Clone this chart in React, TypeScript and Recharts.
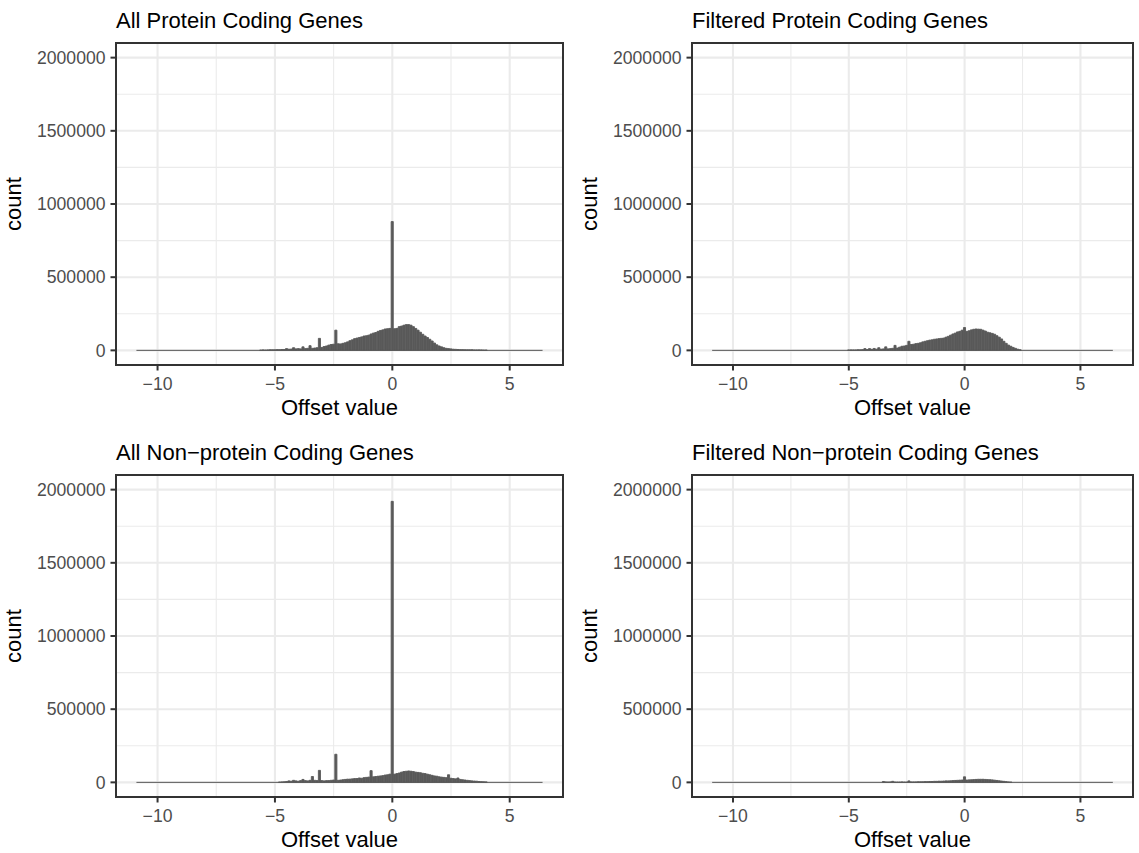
import { BarChart, Bar, XAxis, YAxis, CartesianGrid, ReferenceLine } from 'recharts'

// histogram bins: centre of the first drawn bin and width of every bin
const FIRST_BIN = -5.6
const BIN_WIDTH = 0.1
// observed range of offsets, drawn as the flat tail of each histogram
const OFFSET_MIN = -10.9
const OFFSET_MAX = 6.4

const X_TICKS = [-10, -5, 0, 5]
const X_MINOR = [-7.5, -2.5, 2.5]
const Y_TICKS = [0, 500000, 1000000, 1500000, 2000000]
const Y_MINOR = [250000, 750000, 1250000, 1750000]
const X_DOMAIN: [number, number] = [-11.77, 7.27]
const Y_DOMAIN: [number, number] = [-100000, 2100000]

const TITLES = [
  'All Protein Coding Genes',
  'Filtered Protein Coding Genes',
  'All Non\u2212protein Coding Genes',
  'Filtered Non\u2212protein Coding Genes',
]

// counts per bin, bins from -5.6 to 4.0
const ALL_PC = [
  2000, 3000, 2000, 3000, 4000, 4000, 4000, 5000, 5000, 6000,
  6000, 12000, 8000, 9000, 18000, 10000, 12000, 10000, 24000, 12000,
  14000, 32000, 14000, 16000, 18000, 82000, 20000, 26000, 30000, 36000,
  40000, 42000, 138000, 45000, 44000, 48000, 52000, 58000, 66000, 72000,
  80000, 84000, 88000, 92000, 98000, 100000, 104000, 112000, 118000, 122000,
  130000, 136000, 140000, 146000, 148000, 150000, 880000, 148000, 150000, 162000,
  166000, 172000, 176000, 176000, 172000, 162000, 150000, 138000, 124000, 110000,
  98000, 88000, 76000, 64000, 50000, 38000, 30000, 24000, 18000, 14000,
  12000, 10000, 8000, 7000, 6000, 5000, 5000, 4000, 4000, 4000,
  4000, 3000, 3000, 3000, 3000, 2000, 2000,
]

const FILT_PC = [
  0, 0, 0, 0, 0, 0, 3000, 3000, 3000, 3000,
  4000, 4000, 5000, 12000, 6000, 12000, 7000, 13000, 8000, 18000,
  8000, 10000, 24000, 10000, 12000, 14000, 34000, 16000, 22000, 28000,
  30000, 34000, 62000, 40000, 42000, 46000, 48000, 52000, 58000, 62000,
  66000, 70000, 72000, 76000, 78000, 80000, 82000, 84000, 90000, 96000,
  104000, 112000, 118000, 126000, 130000, 138000, 156000, 130000, 134000, 140000,
  144000, 146000, 145000, 144000, 138000, 132000, 124000, 120000, 116000, 110000,
  100000, 90000, 78000, 62000, 48000, 36000, 28000, 20000, 14000, 8000,
  4000, 0, 0, 0, 0, 0, 0, 0, 0, 0,
  0, 0, 0, 0, 0, 0, 0,
]

const ALL_NPC = [
  0, 0, 0, 0, 0, 0, 0, 0, 2000, 3000,
  4000, 6000, 10000, 8000, 14000, 10000, 8000, 12000, 20000, 12000,
  10000, 14000, 40000, 14000, 12000, 82000, 12000, 10000, 12000, 12000,
  14000, 16000, 192000, 14000, 16000, 18000, 20000, 22000, 22000, 24000,
  26000, 26000, 30000, 28000, 32000, 34000, 36000, 80000, 38000, 40000,
  42000, 44000, 46000, 50000, 52000, 56000, 1920000, 56000, 60000, 64000,
  70000, 74000, 76000, 78000, 76000, 74000, 70000, 68000, 66000, 62000,
  60000, 56000, 52000, 48000, 44000, 42000, 38000, 36000, 34000, 32000,
  52000, 28000, 26000, 24000, 30000, 20000, 18000, 16000, 14000, 12000,
  10000, 9000, 8000, 6000, 5000, 4000, 3000,
]

const FILT_NPC = [
  0, 0, 0, 0, 0, 0, 0, 0, 0, 0,
  0, 0, 0, 0, 0, 0, 0, 0, 0, 0,
  0, 6000, 3000, 2000, 3000, 7000, 2000, 2000, 2000, 3000,
  2000, 2000, 10000, 3000, 3000, 3000, 4000, 4000, 4000, 5000,
  5000, 6000, 6000, 7000, 7000, 8000, 8000, 9000, 10000, 10000,
  11000, 12000, 13000, 14000, 15000, 16000, 38000, 16000, 17000, 18000,
  19000, 20000, 21000, 21000, 21000, 20000, 19000, 18000, 17000, 15000,
  13000, 11000, 9000, 7000, 5000, 3000, 2000, 0, 0, 0,
  0, 0, 0, 0, 0, 0, 0, 0, 0, 0,
  0, 0, 0, 0, 0, 0, 0,
]

const SERIES = [ALL_PC, FILT_PC, ALL_NPC, FILT_NPC]

// plot boxes of the four panels
const BOXES = [
  { x: 116, y: 43, w: 447, h: 322 },
  { x: 692, y: 43, w: 441, h: 322 },
  { x: 116, y: 475, w: 447, h: 322 },
  { x: 692, y: 475, w: 441, h: 322 },
]

const AXIS_W = 110
const AXIS_H = 40
const FONT = '"Liberation Sans", Arial, Helvetica, sans-serif'

const fmtMinus = (v: number) => String(v).replace('-', '\u2212')

interface Box { x: number; y: number; w: number; h: number }

function Panel({ title, counts, box }: { title: string; counts: number[]; box: Box }) {
  const data = counts.map((count, i) => ({
    offset: Math.round((FIRST_BIN + i * BIN_WIDTH) * 10) / 10,
    count,
  }))
  const barSize = (box.w * BIN_WIDTH) / (X_DOMAIN[1] - X_DOMAIN[0])

  return (
    <>
      <div style={{ position: 'absolute', left: box.x - AXIS_W, top: box.y }}>
        <BarChart
          width={AXIS_W + box.w}
          height={box.h + AXIS_H}
          data={data}
          margin={{ top: 0, right: 0, bottom: 0, left: 0 }}
          barCategoryGap={0}
          barGap={0}
        >
          <CartesianGrid stroke="#EBEBEB" strokeWidth={1.1} verticalValues={X_MINOR} horizontalValues={Y_MINOR} />
          <CartesianGrid stroke="#EBEBEB" strokeWidth={2.1} verticalValues={X_TICKS} horizontalValues={Y_TICKS} />
          <XAxis
            type="number"
            dataKey="offset"
            domain={X_DOMAIN}
            allowDataOverflow
            ticks={X_TICKS}
            interval={0}
            tickFormatter={fmtMinus}
            height={AXIS_H}
            tick={{ fontSize: 17.6, fill: '#4D4D4D' }}
            tickSize={5.5}
            tickMargin={7}
            tickLine={{ stroke: '#333333', strokeWidth: 2 }}
            axisLine={false}
          />
          <YAxis
            type="number"
            domain={Y_DOMAIN}
            allowDataOverflow
            ticks={Y_TICKS}
            interval={0}
            width={AXIS_W}
            tick={{ fontSize: 17.6, fill: '#4D4D4D' }}
            tickSize={5.5}
            tickMargin={5}
            tickLine={{ stroke: '#333333', strokeWidth: 2 }}
            axisLine={false}
          />
          <ReferenceLine
            segment={[{ x: OFFSET_MIN, y: 0 }, { x: OFFSET_MAX, y: 0 }]}
            stroke="#595959"
            strokeWidth={1}
          />
          <Bar
            dataKey="count"
            fill="#595959"
            stroke="#595959"
            strokeWidth={0.9}
            barSize={barSize}
            isAnimationActive={false}
          />
        </BarChart>
      </div>
      <div
        style={{
          position: 'absolute',
          left: box.x - 1,
          top: box.y - 1,
          width: box.w + 2,
          height: box.h + 2,
          border: '2px solid #333333',
          boxSizing: 'border-box',
          pointerEvents: 'none',
        }}
      />
      <svg
        width={1139}
        height={853}
        style={{ position: 'absolute', left: 0, top: 0, pointerEvents: 'none', overflow: 'visible' }}
      >
        <text x={box.x} y={box.y - 15} fontSize={22} fill="#000" fontFamily={FONT}>
          {title}
        </text>
        <text
          x={box.x + box.w / 2}
          y={box.y + box.h + 49.5}
          fontSize={22}
          fill="#000"
          textAnchor="middle"
          fontFamily={FONT}
        >
          Offset value
        </text>
        <text
          transform={`translate(${box.x - 95}, ${box.y + box.h / 2}) rotate(-90)`}
          fontSize={22}
          fill="#000"
          textAnchor="middle"
          fontFamily={FONT}
        >
          count
        </text>
      </svg>
    </>
  )
}

export default function App() {
  return (
    <div
      style={{
        position: 'absolute',
        left: 0,
        top: 0,
        width: 1139,
        height: 853,
        background: '#ffffff',
        fontFamily: FONT,
        overflow: 'hidden',
      }}
    >
      {SERIES.map((counts, i) => (
        <Panel key={TITLES[i]} title={TITLES[i]} counts={counts} box={BOXES[i]} />
      ))}
    </div>
  )
}
